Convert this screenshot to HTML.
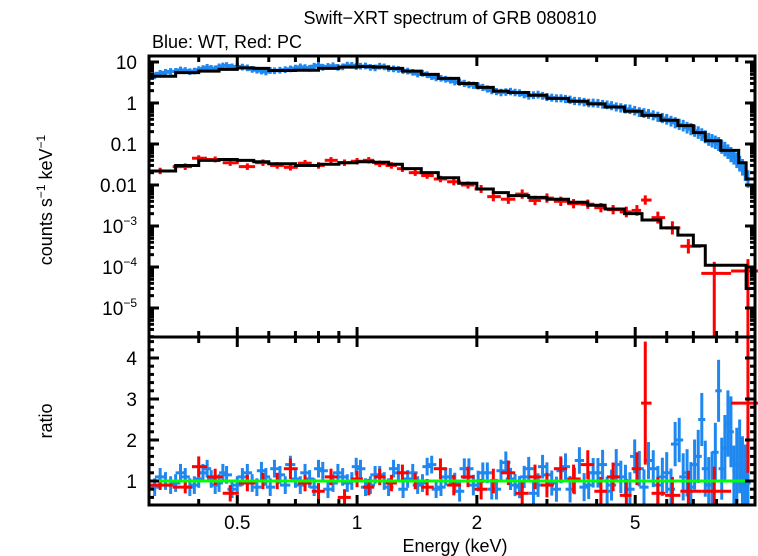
<!DOCTYPE html>
<html><head><meta charset="utf-8"><style>
html,body{margin:0;padding:0;background:#fff;}
svg{display:block;font-family:"Liberation Sans",sans-serif;}
</style></head><body>
<svg id="chart" width="758" height="556" viewBox="0 0 758 556">
<text x="450" y="24" text-anchor="middle" font-size="18">Swift−XRT spectrum of GRB 080810</text>
<text x="152" y="48" font-size="18">Blue: WT, Red: PC</text>
<text transform="translate(52,200) rotate(-90)" text-anchor="middle" font-size="18">counts s<tspan font-size="12" dy="-7">−1</tspan><tspan dy="7"> keV</tspan><tspan font-size="12" dy="-7">−1</tspan></text>
<text transform="translate(52,421) rotate(-90)" text-anchor="middle" font-size="18">ratio</text>
<text x="455" y="552" text-anchor="middle" font-size="18">Energy (keV)</text>
<g id="marks"></g>
<g id="axes"></g>
</svg>
<script>
const blueE=[0.31,0.33,0.35,0.37,0.39,0.41,0.43,0.45,0.47,0.5,0.53,0.56,0.59,0.62,0.66,0.7,0.74,0.78,0.82,0.87,0.92,0.97,1.02,1.08,1.14,1.2,1.27,1.34,1.42,1.5,1.58,1.67,1.76,1.86,1.96,2.07,2.18,2.3,2.43,2.56,2.7,2.85,3.0,3.17,3.34,3.52,3.72,3.92,4.14,4.36,4.6,4.85,5.12,5.4,5.7,6.0,6.3,6.6,6.9,7.2,7.5,7.8,8.1,8.4,8.7,9.0,9.3,9.6];
const blueY=[4.6,5.6,5.9,6.2,6.0,6.9,7.0,7.6,8.2,7.8,7.2,6.3,5.7,6.1,6.5,7.1,7.3,7.9,7.4,8.1,7.6,8.3,7.9,7.4,7.9,7.0,6.6,6.0,5.1,4.9,4.1,3.8,3.3,3.0,2.7,2.4,2.0,1.8,1.9,1.75,1.5,1.6,1.4,1.3,1.25,1.12,1.05,1.0,0.93,0.86,0.76,0.7,0.6,0.54,0.46,0.4,0.33,0.28,0.23,0.19,0.15,0.12,0.1,0.075,0.055,0.04,0.027,0.014];
const blueErr=[0.12,0.12,0.12,0.12,0.12,0.12,0.12,0.12,0.12,0.12,0.12,0.12,0.12,0.12,0.12,0.12,0.12,0.12,0.12,0.12,0.12,0.12,0.12,0.12,0.12,0.12,0.12,0.12,0.12,0.12,0.12,0.12,0.14,0.14,0.14,0.14,0.14,0.15,0.15,0.15,0.16,0.16,0.17,0.17,0.18,0.18,0.19,0.2,0.2,0.21,0.22,0.23,0.24,0.25,0.26,0.28,0.3,0.32,0.34,0.36,0.38,0.4,0.42,0.45,0.48,0.5,0.55,0.6];
const blueRatio=[0.85,1.0,0.95,1.1,0.9,1.2,1.05,0.95,1.15,0.9,1.2,0.85,1.1,1.3,0.9,1.05,1.2,0.85,1.25,0.95,1.1,1.0,1.3,0.9,1.15,0.85,1.2,1.05,0.9,1.35,0.8,1.1,0.95,1.3,0.9,1.2,0.8,1.25,1.05,0.85,1.3,0.9,1.15,0.8,1.35,1.0,0.85,1.2,1.4,0.9,1.1,0.8,1.3,1.5,0.9,1.2,1.9,1.1,0.85,1.6,1.3,1.0,3.2,1.8,2.2,1.4,1.1,0.95];
const blueE2=[0.32,0.34,0.36,0.38,0.40,0.42,0.44,0.46,0.485,0.515,0.545,0.575,0.605,0.64,0.68,0.72,0.76,0.80,0.845,0.895,0.945,0.995,1.05,1.11,1.17,1.235,1.305,1.38,1.46,1.54,1.625,1.715,1.81,1.91,2.015,2.125,2.24,2.365,2.495,2.63,2.775,2.925,3.085,3.255,3.43,3.62,3.82,4.03,4.25,4.48,4.725,4.985,5.26,5.55,5.85,6.15,6.45,6.75,7.05,7.35,7.65,7.95,8.25,8.55,8.85,9.15,9.45];
const blueY2=[5.3,5.9,6.4,5.8,6.5,7.4,6.8,8.0,7.6,7.5,6.6,6.0,6.2,6.3,6.8,7.6,7.0,8.3,7.8,7.4,8.4,7.7,8.0,7.2,7.6,6.8,6.2,5.6,5.3,4.4,4.0,3.6,3.2,2.8,2.6,2.2,1.9,1.85,1.8,1.6,1.55,1.5,1.35,1.3,1.2,1.1,1.0,0.98,0.9,0.8,0.72,0.65,0.57,0.5,0.43,0.36,0.3,0.25,0.21,0.17,0.13,0.11,0.085,0.065,0.048,0.033,0.02];
const blueRatio2=[1.1,0.9,1.2,0.85,1.05,1.3,0.9,1.2,0.8,1.1,0.95,1.25,0.85,1.15,1.4,0.9,1.05,1.3,0.8,1.2,0.95,1.35,0.85,1.15,1.0,1.3,0.8,1.2,0.95,1.4,0.85,1.1,0.75,1.3,1.0,1.2,0.8,1.45,0.9,1.1,0.7,1.35,0.95,1.25,0.8,1.5,0.9,1.2,0.75,1.4,1.0,1.6,0.85,1.3,1.1,0.8,2.0,1.2,1.4,2.5,0.9,1.7,1.3,2.4,1.0,1.6,0.9];
const redE=[0.32,0.37,0.4,0.44,0.48,0.53,0.58,0.63,0.68,0.74,0.8,0.86,0.93,1.0,1.07,1.14,1.22,1.3,1.4,1.5,1.62,1.75,1.9,2.05,2.2,2.4,2.6,2.8,3.0,3.25,3.5,3.8,4.1,4.4,4.75,5.05,5.3,5.7,6.2,6.8,7.9,9.6];
const redY=[0.022,0.028,0.045,0.042,0.035,0.028,0.035,0.030,0.027,0.034,0.030,0.040,0.035,0.038,0.040,0.033,0.030,0.025,0.020,0.017,0.014,0.012,0.010,0.008,0.0052,0.0045,0.006,0.0042,0.0048,0.0040,0.0035,0.0034,0.0028,0.0025,0.0022,0.0024,0.0043,0.0016,0.0009,0.00032,0.00007,0.00008];
const redErr=[0.2,0.2,0.18,0.18,0.2,0.2,0.2,0.2,0.2,0.2,0.2,0.2,0.2,0.2,0.2,0.2,0.2,0.2,0.2,0.2,0.2,0.22,0.22,0.25,0.3,0.3,0.3,0.3,0.3,0.3,0.3,0.3,0.3,0.3,0.35,0.35,0.3,0.4,0.45,0.5,0.9,0.95];
const redRatio=[0.9,0.85,1.35,1.1,0.7,0.95,1.0,1.0,1.3,0.95,0.75,1.1,0.6,1.05,0.85,1.1,0.95,1.2,1.0,0.85,1.3,0.9,1.1,0.8,1.0,1.2,0.7,1.1,0.9,1.3,1.05,1.4,0.75,1.1,0.65,1.3,2.9,0.7,0.65,0.75,0.75,2.9];
const redRatioErr=[0.12,0.15,0.25,0.2,0.2,0.2,0.2,0.2,0.25,0.2,0.2,0.2,0.2,0.2,0.2,0.2,0.2,0.2,0.2,0.2,0.25,0.25,0.25,0.25,0.3,0.3,0.3,0.3,0.3,0.3,0.35,0.35,0.35,0.35,0.4,0.4,1.5,0.4,0.45,0.5,0.6,1.7];
const modelEdges=[0.3,0.35,0.4,0.45,0.5,0.55,0.6,0.7,0.8,0.9,1.0,1.1,1.2,1.3,1.45,1.6,1.8,2.0,2.2,2.4,2.7,3.0,3.4,3.8,4.2,4.7,5.2,5.8,6.4,7.0,7.5,8.2,9.1,9.5,10];
const modelWT=[4.5,5.5,6.0,6.6,7.2,7.0,6.2,6.3,7.0,7.5,7.7,7.5,7.0,6.0,5.0,4.0,3.0,2.4,1.95,1.8,1.55,1.3,1.1,0.95,0.8,0.63,0.5,0.38,0.28,0.19,0.12,0.07,0.035,0.014];
const modelPC=[0.022,0.03,0.04,0.042,0.04,0.037,0.033,0.030,0.032,0.035,0.037,0.036,0.032,0.025,0.020,0.015,0.011,0.008,0.0065,0.0055,0.005,0.0045,0.0038,0.0032,0.0026,0.002,0.0014,0.0009,0.0006,0.00033,0.00011,0.00011,0.00011,0.00003];
const xTicks=[0.5,1,2,5];
const yTickVals=[10,1,0.1,0.01,0.001,0.0001,0.00001];
const ratioTicks=[1,2,3,4];

const NS="http://www.w3.org/2000/svg";
const L=149,R=755,T1=56,B1=337,T2=337,B2=505;
const xS=e=>L+(Math.log10(e)-Math.log10(0.3))/(Math.log10(10)-Math.log10(0.3))*(R-L);
const yS=v=>62+(1-Math.log10(v))*41;
const rS=v=>481-(v-1)*41;
const marks=document.getElementById('marks'),axes=document.getElementById('axes');
function ln(g,x1,y1,x2,y2,c,w){const l=document.createElementNS(NS,'line');l.setAttribute('x1',x1);l.setAttribute('y1',y1);l.setAttribute('x2',x2);l.setAttribute('y2',y2);l.setAttribute('stroke',c);l.setAttribute('stroke-width',w);g.appendChild(l);return l;}
function cl(v,a,b){return Math.max(a,Math.min(b,v));}
function halfBins(E){return E.map((e,i)=>{const p=i>0?E[i-1]:e*e/E[i+1];const n=i<E.length-1?E[i+1]:e*e/E[i-1];return [Math.sqrt(p*e),Math.sqrt(e*n)];});}
const gTop=document.createElementNS(NS,'g');marks.appendChild(gTop);
const gBot=document.createElementNS(NS,'g');marks.appendChild(gBot);
const BLUE='#1e88f0';
function drawBlue(E,Y,Rt){
 const bb=halfBins(E);
 E.forEach((e,i)=>{
  const err=blueErr[Math.min(i,blueErr.length-1)];
  const g=document.createElementNS(NS,'g');
  
  
  const y=yS(Y[i]),f=1.1+err*0.9;
  ln(g,xS(bb[i][0]),y,xS(bb[i][1]),y,BLUE,3);
  ln(g,xS(e),cl(yS(Y[i]*f),T1,B1),xS(e),cl(yS(Y[i]/f),T1,B1),BLUE,3);
  gTop.appendChild(g);
  const g2=document.createElementNS(NS,'g');
  
  
  const ry=rS(Rt[i]),re=err*1.8;
  ln(g2,xS(bb[i][0]),ry,xS(bb[i][1]),ry,BLUE,3);
  ln(g2,xS(e),cl(rS(Rt[i]+re),T2,B2),xS(e),cl(rS(Rt[i]-re),T2,B2),BLUE,3);
  gBot.appendChild(g2);
 });
}
drawBlue(blueE,blueY,blueRatio);
drawBlue(blueE2,blueY2,blueRatio2);
function step(vals,name){
 let d='';
 vals.forEach((v,i)=>{const x1=xS(modelEdges[i]),x2=xS(modelEdges[i+1]),y=yS(v);d+=(i?'L':'M')+x1+' '+y+'L'+x2+' '+y;});
 const p=document.createElementNS(NS,'path');p.setAttribute('d',d);p.setAttribute('fill','none');p.setAttribute('stroke','#000');p.setAttribute('stroke-width',3);
 
 
 gTop.appendChild(p);
}
const rb=halfBins(redE);
redE.forEach((e,i)=>{
 const g=document.createElementNS(NS,'g');
 
 
 const y=yS(redY[i]),f=1+redErr[i];
 ln(g,xS(rb[i][0]),y,xS(rb[i][1]),y,'#f00',3);
 ln(g,xS(e),cl(yS(redY[i]*f),T1,B1),xS(e),cl(yS(redY[i]/(redErr[i]>0.8?100:f)),T1,B1),'#f00',3);
 gTop.appendChild(g);
 const g2=document.createElementNS(NS,'g');
 
 
 const ry=rS(redRatio[i]);
 ln(g2,xS(rb[i][0]),ry,xS(rb[i][1]),ry,'#f00',3);
 ln(g2,xS(e),cl(rS(redRatio[i]+redRatioErr[i]),T2,B2),xS(e),cl(rS(redRatio[i]-redRatioErr[i]),T2,B2),'#f00',3);
 gBot.appendChild(g2);
});
step(modelWT,'wt-model-line');
step(modelPC,'pc-model-line');
const gl=ln(gBot,L,rS(1),R,rS(1),'#00ff00',3);


[[T1,B1],[T2,B2]].forEach(([t,b])=>{const r=document.createElementNS(NS,'rect');r.setAttribute('x',L);r.setAttribute('y',t);r.setAttribute('width',R-L);r.setAttribute('height',b-t);r.setAttribute('fill','none');r.setAttribute('stroke','#000');r.setAttribute('stroke-width',3);
 
 
 axes.appendChild(r);});
const minors=[0.3,0.4,0.6,0.7,0.8,0.9,3,4,6,7,8,9];
[[T1,B1],[T2,B2]].forEach(([t,b])=>{
 xTicks.forEach(v=>{ln(axes,xS(v),t,xS(v),t+10,'#000',3);ln(axes,xS(v),b,xS(v),b-10,'#000',3);});
 minors.forEach(v=>{ln(axes,xS(v),t,xS(v),t+6,'#000',3);ln(axes,xS(v),b,xS(v),b-6,'#000',3);});
});
xTicks.forEach(v=>{const t=document.createElementNS(NS,'text');t.setAttribute('x',xS(v));t.setAttribute('y',529);t.setAttribute('text-anchor','middle');t.setAttribute('font-size',19);t.textContent=String(v);
 
 
 axes.appendChild(t);});
yTickVals.forEach((v,i)=>{
 const y=yS(v);ln(axes,L,y,L+10,y,'#000',3);ln(axes,R,y,R-10,y,'#000',3);
 for(let m=2;m<=9;m++){const ym=yS(v*m);if(ym>T1&&ym<B1){ln(axes,L,ym,L+5,ym,'#000',3);ln(axes,R,ym,R-5,ym,'#000',3);}}
 const t=document.createElementNS(NS,'text');t.setAttribute('x',137);t.setAttribute('y',y+7);t.setAttribute('text-anchor','end');t.setAttribute('font-size',19);
 if(v>=0.01)t.textContent=String(v);else{const ex=Math.round(Math.log10(v));t.innerHTML='10<tspan font-size="12" dy="-8">'+'−'+(-ex)+'</tspan>';}
 
 
 axes.appendChild(t);
});
for(let m=2;m<=9;m++){const ym=yS(0.00001/10*m);if(ym<B1){ln(axes,L,ym,L+5,ym,'#000',3);ln(axes,R,ym,R-5,ym,'#000',3);}}
ratioTicks.forEach(v=>{
 const y=rS(v);ln(axes,L,y,L+10,y,'#000',3);ln(axes,R,y,R-10,y,'#000',3);
 const t=document.createElementNS(NS,'text');t.setAttribute('x',137);t.setAttribute('y',y+7);t.setAttribute('text-anchor','end');t.setAttribute('font-size',19);t.textContent=String(v);
 
 
 axes.appendChild(t);
});
for(let k=1;k<=21;k++){const v=0.4+k*0.2;const y=rS(v);if(y>T2+2&&y<B2-2&&Math.abs(v-Math.round(v))>0.01){ln(axes,L,y,L+5,y,'#000',3);ln(axes,R,y,R-5,y,'#000',3);}}
</script>
</body></html>
